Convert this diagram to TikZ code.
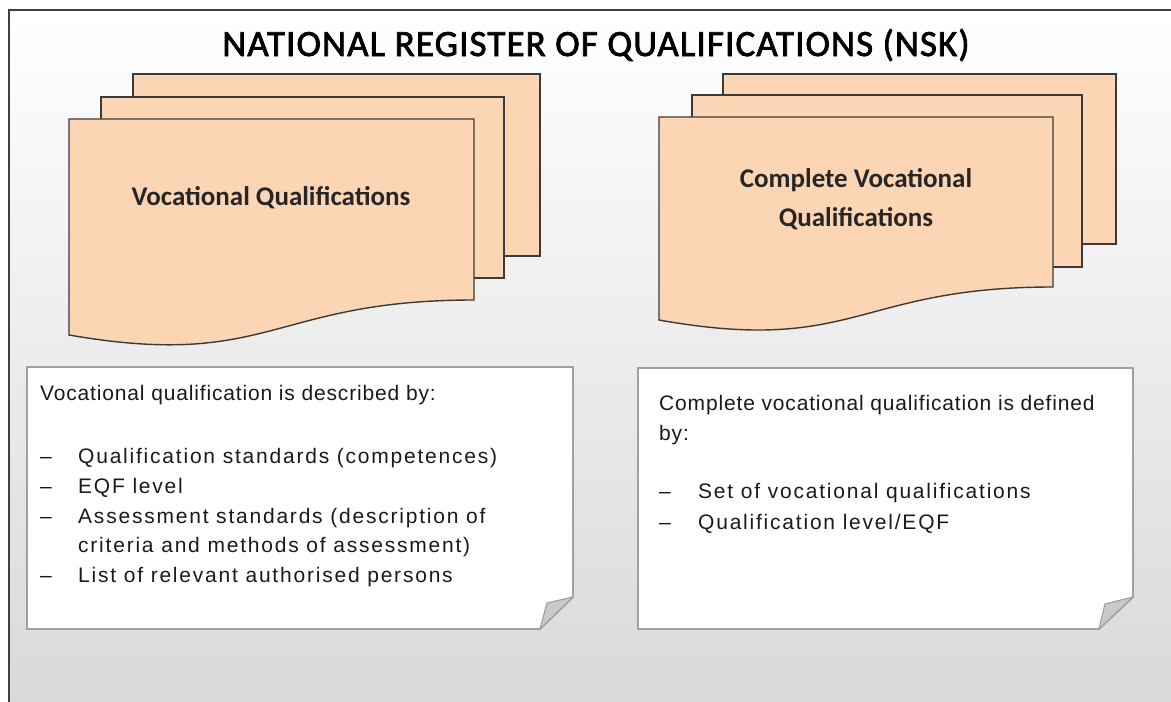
\documentclass[tikz,border=0pt]{standalone}
\usepackage{fontspec}
\setmainfont{Carlito}
\newfontfamily\titlef[LetterSpace=3,FakeBold=2]{Carlito}
\newfontfamily\arialhead[LetterSpace=4]{Liberation Sans}
\newfontfamily\arialbul[LetterSpace=8.5]{Liberation Sans}
\definecolor{peach}{HTML}{FCD5B4}
\definecolor{docline}{HTML}{3A3A3A}
\definecolor{noteline}{HTML}{A0A0A0}
\definecolor{foldfill}{HTML}{CACACA}
\definecolor{bgbottom}{HTML}{D9D9D9}
\definecolor{frameline}{HTML}{404040}
\definecolor{notetext}{HTML}{1A1A1A}
\tikzset{
  sheet/.style={fill=peach, draw=docline, line width=1.4pt, line join=miter},
  notebox/.style={fill=white, draw=noteline, line width=1.8pt, line join=miter},
  foldtri/.style={fill=foldfill, draw=noteline, line width=1.2pt, line join=round},
  doclabel/.style={font=\fontsize{27}{39}\selectfont\bfseries, align=center, inner sep=0pt, text=black!85},
  headline/.style={font=\arialhead\fontsize{21}{30}\selectfont, anchor=base west, inner sep=0pt, text=notetext},
  bulline/.style={font=\arialbul\fontsize{21}{30}\selectfont, anchor=base west, inner sep=0pt, text=notetext},
  titletext/.style={font=\titlef\fontsize{37}{40}\selectfont, anchor=base, inner sep=0pt}
}
\begin{document}
\begin{tikzpicture}[x=1pt,y=-1pt]
\useasboundingbox (0,0) rectangle (1171,702);
% background
\fill[white] (0,0) rectangle (1171,702);
\shade[top color=white, bottom color=bgbottom] (9,10) rectangle (1171,702);
\draw[frameline, line width=2pt] (9,702) -- (9,10) -- (1171,10);

% title
\node[titletext] (title) at (596,56) {NATIONAL REGISTER OF QUALIFICATIONS (NSK)};

% left stack
\draw[sheet] (133,74) rectangle (540,256);
\draw[sheet] (101,97) rectangle (504,278);
\draw[sheet] (69,119) -- (474,119) -- (474,300)
  .. controls (271,300) and (271,370) .. (69,335) -- cycle;
\node[doclabel, anchor=base] (vq) at (271,205) {Vocational Qualifications};

% right stack
\draw[sheet] (723,74) rectangle (1116,244);
\draw[sheet] (692,95) rectangle (1082,267);
\draw[sheet] (659,117) -- (1053,117) -- (1053,287)
  .. controls (856,287) and (856,355) .. (659,320) -- cycle;
\node[doclabel, anchor=base] (cvq1) at (856,187) {Complete Vocational};
\node[doclabel, anchor=base] (cvq2) at (856,226) {Qualifications};

% left note
\draw[notebox] (27,367) -- (573,367) -- (573,597) -- (540,629) -- (27,629) -- cycle;
\draw[foldtri] (573,597) -- (547,603) -- (540,629) -- cycle;
\node[headline] (l0) at (40,400) {Vocational qualification is described by:};
\node[bulline] (l1d) at (40,463) {–};
\node[bulline] (l1) at (78,463) {Qualification standards (competences)};
\node[bulline] (l2d) at (40,493) {–};
\node[bulline] (l2) at (78,493) {EQF level};
\node[bulline] (l3d) at (40,523) {–};
\node[bulline] (l3) at (78,523) {Assessment standards (description of};
\node[bulline] (l4) at (78,552) {criteria and methods of assessment)};
\node[bulline] (l5d) at (40,582) {–};
\node[bulline] (l5) at (78,582) {List of relevant authorised persons};

% right note
\draw[notebox] (638,368) -- (1133,368) -- (1133,597) -- (1099,629) -- (638,629) -- cycle;
\draw[foldtri] (1133,597) -- (1105,604) -- (1099,629) -- cycle;
\node[headline] (r0) at (659,410) {Complete vocational qualification is defined};
\node[headline] (r1) at (659,440) {by:};
\node[bulline] (r2d) at (659,498) {–};
\node[bulline] (r2) at (698,498) {Set of vocational qualifications};
\node[bulline] (r3d) at (659,529) {–};
\node[bulline] (r3) at (698,529) {Qualification level/EQF};
\end{tikzpicture}
\end{document}
